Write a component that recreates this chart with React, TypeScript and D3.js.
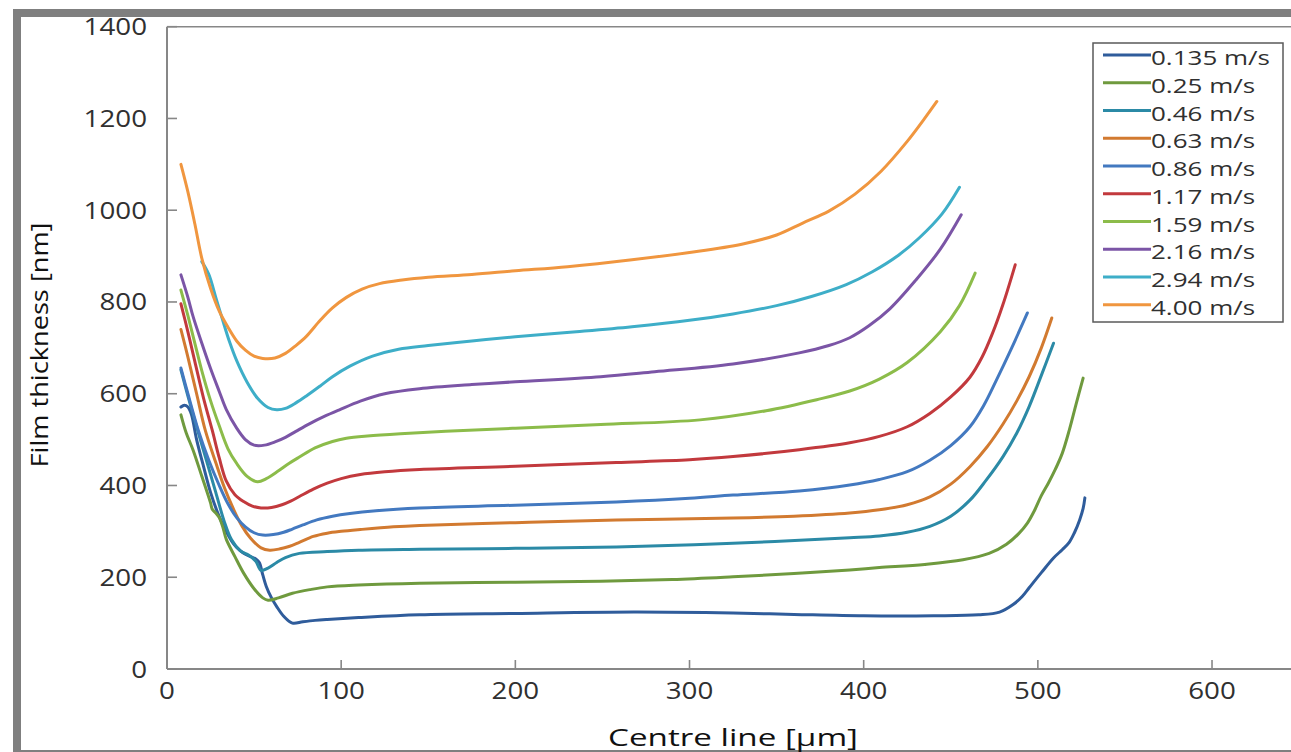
import React from 'react';
import * as d3 from 'd3';

type P = [number, number];

const speeds = ['0.135 m/s', '0.25 m/s', '0.46 m/s', '0.63 m/s', '0.86 m/s', '1.17 m/s', '1.59 m/s', '2.16 m/s', '2.94 m/s', '4.00 m/s'];
const colors = ['#2f5c9b', '#6f9a3e', '#2b8aa6', '#d27a30', '#4379c0', '#c2393d', '#8cbc4a', '#7b55a6', '#3eaec8', '#f0963f'];

const xTicks = [0, 100, 200, 300, 400, 500, 600];
const yTicks = [0, 200, 400, 600, 800, 1000, 1200, 1400];

const s0135: P[] = [[8,571],[10,575],[12,571],[14,555],[17,500],[21,441],[25,385],[30,332],[34,300],[38,274],[42,258],[45,250],[48,245],[51,240],[53,232],[55,205],[57,180],[60,155],[63,136],[67,115],[72,100],[78,103],[85,106],[92,108],[110,112],[145,118],[200,121],[268,124],[325,122],[360,119],[400,116],[440,116],[466,118],[478,124],[486,141],[491,158],[495,177],[502,210],[509,242],[514,260],[518,276],[521,297],[524,325],[526,350],[527,373]];
const s025: P[] = [[8,554],[11,515],[15,477],[20,420],[25,362],[26,348],[28,340],[30,330],[32,310],[34,283],[39,245],[44,209],[50,175],[55,155],[58,150],[64,155],[72,165],[82,173],[92,179],[110,183],[145,187],[200,189],[249,191],[290,195],[325,201],[360,208],[392,216],[409,221],[435,228],[457,238],[472,252],[482,272],[489,295],[494,318],[498,345],[502,378],[506,405],[510,435],[514,470],[518,520],[522,578],[526,634]];
const s046: P[] = [[8,652],[12,595],[18,515],[23,450],[28,385],[33,320],[37,282],[42,258],[47,248],[51,235],[54,215],[58,220],[63,232],[68,243],[76,252],[92,256],[110,259],[145,261],[200,263],[258,266],[325,274],[392,286],[409,290],[425,298],[438,311],[450,333],[461,368],[470,410],[480,463],[488,515],[495,572],[502,640],[509,710]];
const s063: P[] = [[8,740],[12,680],[17,600],[22,520],[28,450],[33,395],[38,350],[43,312],[48,285],[54,264],[59,259],[65,262],[70,267],[76,276],[84,289],[92,296],[100,300],[111,304],[130,310],[145,313],[200,319],[258,325],[325,329],[360,333],[392,340],[409,347],[425,358],[438,375],[450,403],[461,441],[471,485],[480,534],[488,585],[495,637],[502,700],[508,765]];
const s086: P[] = [[8,656],[12,600],[18,520],[24,455],[30,400],[35,360],[40,330],[45,310],[50,297],[55,292],[61,293],[67,298],[72,305],[78,314],[86,325],[95,333],[105,339],[120,345],[145,351],[200,357],[258,364],[300,372],[325,379],[363,388],[392,401],[409,413],[425,430],[438,455],[450,487],[461,528],[469,575],[476,628],[485,700],[494,776]];
const s117: P[] = [[8,796],[12,735],[16,670],[21,590],[26,520],[30,460],[34,410],[39,380],[44,365],[49,355],[54,351],[60,352],[66,358],[71,366],[76,376],[84,392],[92,405],[100,415],[111,424],[125,430],[145,435],[200,442],[258,450],[300,456],[325,463],[363,478],[392,493],[409,507],[425,528],[438,557],[450,593],[461,636],[468,680],[474,732],[480,795],[487,881]];
const s159: P[] = [[8,826],[12,770],[16,710],[20,650],[25,585],[30,530],[35,480],[40,448],[46,420],[52,408],[57,415],[64,432],[70,448],[76,462],[85,482],[95,496],[103,503],[115,508],[134,513],[160,518],[200,525],[249,533],[306,543],[344,563],[373,587],[392,606],[409,632],[425,668],[444,735],[455,792],[464,863]];
const s216: P[] = [[8,859],[12,810],[15,768],[20,710],[25,655],[30,605],[34,566],[40,525],[45,500],[50,488],[56,488],[62,495],[68,505],[74,518],[82,535],[90,550],[99,565],[111,584],[125,600],[145,611],[175,620],[200,626],[249,637],[280,648],[325,665],[363,689],[380,705],[392,722],[403,748],[415,785],[430,848],[444,915],[456,990]];
const s294: P[] = [[20,888],[24,860],[28,810],[32,760],[36,712],[40,672],[46,625],[52,590],[58,570],[63,565],[68,568],[74,580],[80,595],[88,617],[95,637],[105,660],[118,682],[133,697],[150,705],[175,715],[200,724],[235,735],[267,746],[300,760],[325,774],[350,792],[370,812],[390,838],[405,866],[420,902],[432,940],[445,992],[455,1050]];
const s400: P[] = [[8,1100],[12,1040],[16,970],[20,895],[25,830],[30,780],[35,745],[40,715],[45,695],[50,682],[55,677],[62,678],[68,688],[74,705],[80,725],[88,760],[95,787],[103,810],[112,828],[122,840],[135,848],[150,854],[175,860],[200,868],[230,877],[267,892],[300,908],[330,926],[350,946],[365,972],[380,998],[395,1035],[410,1085],[425,1150],[435,1200],[442,1237]];

const seriesData = [s0135, s025, s046, s063, s086, s117, s159, s216, s294, s400];

const FONT = "'Open Sans', 'DejaVu Sans', sans-serif";

export default function App() {
  const W = 1291, H = 752;
  const x0 = 167, xPerUnit = 1.7417;
  const x = d3.scaleLinear().domain([0, 700]).range([x0, x0 + 700 * xPerUnit]);
  const y = d3.scaleLinear().domain([0, 1400]).range([669, 26.7]);
  const line = d3.line<P>().x(d => x(d[0])).y(d => y(d[1])).curve(d3.curveCatmullRom.alpha(0.5));
  const axisColor = '#878787';
  const textColor = '#303030';

  const legX = 1093, legY = 43, legW = 190, legH = 279;
  const rowY0 = 55, rowStep = 27.75;

  return (
    <svg width={W} height={H} style={{ position: 'absolute', left: 0, top: 0, display: 'block', background: '#fff' }} fontFamily={FONT}>
      <rect x={0} y={0} width={W} height={H} fill="#fff" />
      {/* outer gray frame */}
      <rect x={13} y={9} width={W - 13} height={8} fill="#7f7f7f" />
      <rect x={13} y={9} width={8} height={H - 9} fill="#7f7f7f" />
      <rect x={13} y={750} width={W - 13} height={2} fill="#7f7f7f" />

      {/* plot area border / axes */}
      <line x1={x0} x2={W} y1={y(1400)} y2={y(1400)} stroke={axisColor} strokeWidth={1.6} />
      <line x1={x0} x2={x0} y1={y(1400)} y2={y(0)} stroke={axisColor} strokeWidth={2} />
      <line x1={x0} x2={W} y1={y(0)} y2={y(0)} stroke={axisColor} strokeWidth={2} />
      {yTicks.map(t => (
        <line key={'yt' + t} x1={x0} x2={x0 + 10} y1={y(t)} y2={y(t)} stroke={axisColor} strokeWidth={1.6} />
      ))}
      {xTicks.map(t => (
        <line key={'xt' + t} x1={x(t)} x2={x(t)} y1={y(0)} y2={y(0) - 9} stroke={axisColor} strokeWidth={1.6} />
      ))}
      {yTicks.map(t => (
        <text key={'yl' + t} transform={`translate(${147},${y(t) + 8.5}) scale(1.18,1)`} textAnchor="end" fontSize={23.5} fill={textColor}>{t}</text>
      ))}
      {xTicks.map(t => (
        <text key={'xl' + t} transform={`translate(${x(t)},${699}) scale(1.18,1)`} textAnchor="middle" fontSize={23.5} fill={textColor}>{t}</text>
      ))}

      {/* axis titles */}
      <text x={733} y={746} textAnchor="middle" fontSize={24} fill="#111" textLength={250} lengthAdjust="spacingAndGlyphs">Centre line [µm]</text>
      <text transform={`translate(48,345) rotate(-90)`} textAnchor="middle" fontSize={24} fill="#111" textLength={245} lengthAdjust="spacingAndGlyphs">Film thickness [nm]</text>

      {/* series */}
      {seriesData.map((d, i) => (
        <path key={'s' + i} d={line(d) || ''} fill="none" stroke={colors[i]} strokeWidth={3} strokeLinejoin="round" strokeLinecap="round" />
      ))}

      {/* legend */}
      <rect x={legX} y={legY} width={legW} height={legH} fill="#fff" stroke="#5a5a5a" strokeWidth={1.5} />
      {speeds.map((s, i) => (
        <g key={'lg' + i}>
          <line x1={1103} x2={1151} y1={rowY0 + i * rowStep} y2={rowY0 + i * rowStep} stroke={colors[i]} strokeWidth={3} />
          <text transform={`translate(1151,${rowY0 + i * rowStep + 10}) scale(1.3,1)`} fontSize={20} fill={textColor}>{s}</text>
        </g>
      ))}
    </svg>
  );
}
